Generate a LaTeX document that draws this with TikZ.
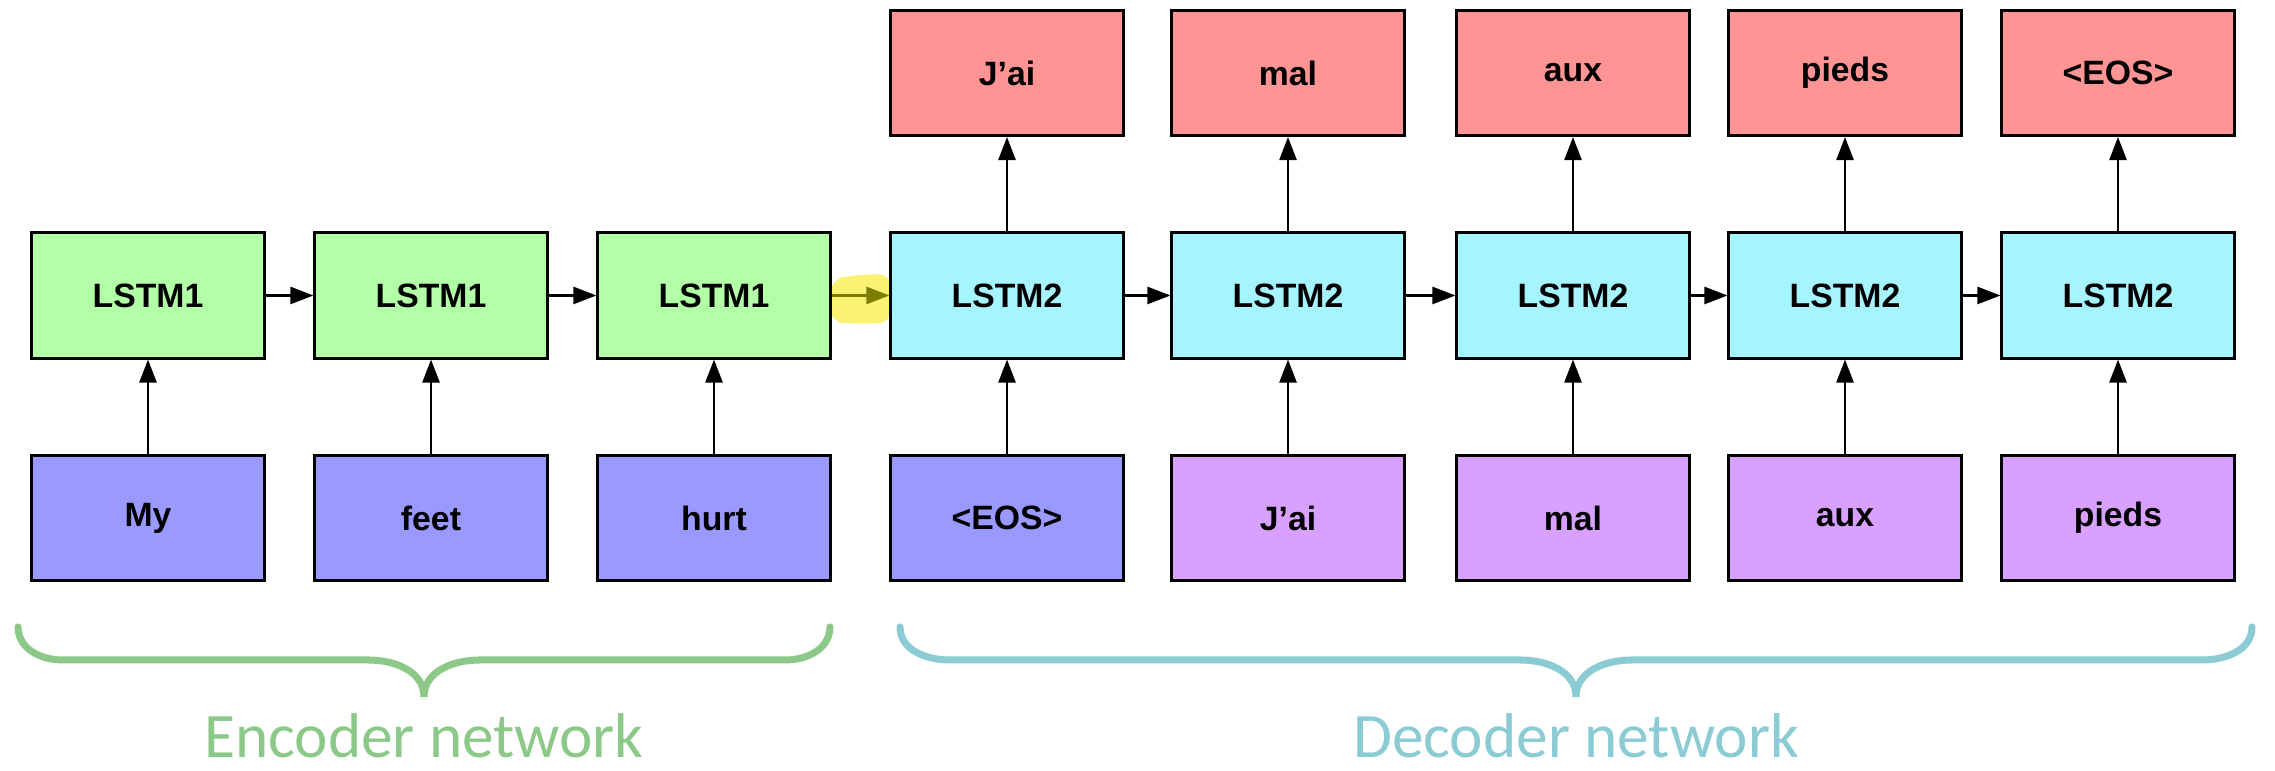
\documentclass[tikz,border=0pt]{standalone}
\usepackage{fontspec}
\setmainfont{Liberation Sans}
\newfontfamily\netfont{Carlito}
\usetikzlibrary{arrows.meta, positioning}

\definecolor{encgreen}{RGB}{178,255,168}
\definecolor{deccyan}{RGB}{166,244,255}
\definecolor{outred}{RGB}{255,148,148}
\definecolor{inblue}{RGB}{153,153,255}
\definecolor{inpurple}{RGB}{216,161,255}
\definecolor{encline}{RGB}{140,201,136}
\definecolor{decline}{RGB}{138,203,212}
\definecolor{hlyellow}{RGB}{250,242,115}
\definecolor{hlolive}{RGB}{125,125,0}

\begin{document}
\begin{tikzpicture}[x=0.01cm, y=0.01cm,
  cell/.style={draw=black, line width=0.85pt, minimum width=2.32cm, minimum height=1.25cm,
    inner sep=0pt, font=\fontsize{9.6}{11}\selectfont\bfseries},
  lstmone/.style={cell, fill=encgreen},
  lstmtwo/.style={cell, fill=deccyan},
  wordin/.style={cell, fill=inblue},
  wordfr/.style={cell, fill=inpurple},
  wordout/.style={cell, fill=outred},
  arr/.style={-{Triangle[length=0.23cm,width=0.17cm]}, line width=0.7pt},
  brace/.style={line width=2pt, line cap=round},
  netlabel/.style={anchor=base, inner sep=0pt, font=\netfont\fontsize{18}{22}\selectfont}]
  \useasboundingbox (0,0) rectangle (2275,771);

  % highlight behind the hand-over arrow
  \fill[hlyellow, rounded corners=4] (830,449) -- (830,491) -- (852,496) -- (892,497) -- (892,448) -- (852,447) -- cycle;

  % encoder
  \foreach \i/\x/\w in {1/148/My, 2/431/feet, 3/714/hurt} {
    \node[lstmone] (enc\i) at (\x,475.5) {LSTM1};
    \node[wordin] (inp\i) at (\x,253) {\w};
    \draw[arr] (inp\i) -- (enc\i);
  }
  \draw[arr] (enc1) -- (enc2);
  \draw[arr] (enc2) -- (enc3);

  % decoder
  \foreach \i/\x/\w/\o in {1/1007/{<EOS>}/J’ai, 2/1288/J’ai/mal, 3/1573/mal/aux, 4/1845/aux/pieds, 5/2118/pieds/{<EOS>}} {
    \node[lstmtwo] (dec\i) at (\x,475.5) {LSTM2};
    \node[wordfr] (din\i) at (\x,253) {\w};
    \node[wordout] (out\i) at (\x,698) {\o};
    \draw[arr] (din\i) -- (dec\i);
    \draw[arr] (dec\i) -- (out\i);
  }
  \node[wordin] (din1) at (1007,253) {<EOS>};
  \draw[arr] (dec1) -- (dec2);
  \draw[arr] (dec2) -- (dec3);
  \draw[arr] (dec3) -- (dec4);
  \draw[arr] (dec4) -- (dec5);

  % hand-over from encoder to decoder
  \draw[arr, hlolive] (enc3) -- (dec1);

  % braces and labels
  \draw[brace, encline] (18,144) to[out=-90,in=180] (62,111) -- (368,111)
    to[out=0,in=90] (424,74) to[out=90,in=180] (480,111) -- (786,111) to[out=0,in=-90] (830,144);
  \draw[brace, decline] (900,144) to[out=-90,in=180] (950,111) -- (1520,111)
    to[out=0,in=90] (1576,74) to[out=90,in=180] (1632,111) -- (2202,111) to[out=0,in=-90] (2252,144);
  \node[netlabel, text=encline] (enclabel) at (424,13) {Encoder network};
  \node[netlabel, text=decline] (declabel) at (1576,13) {Decoder network};
\end{tikzpicture}
\end{document}
